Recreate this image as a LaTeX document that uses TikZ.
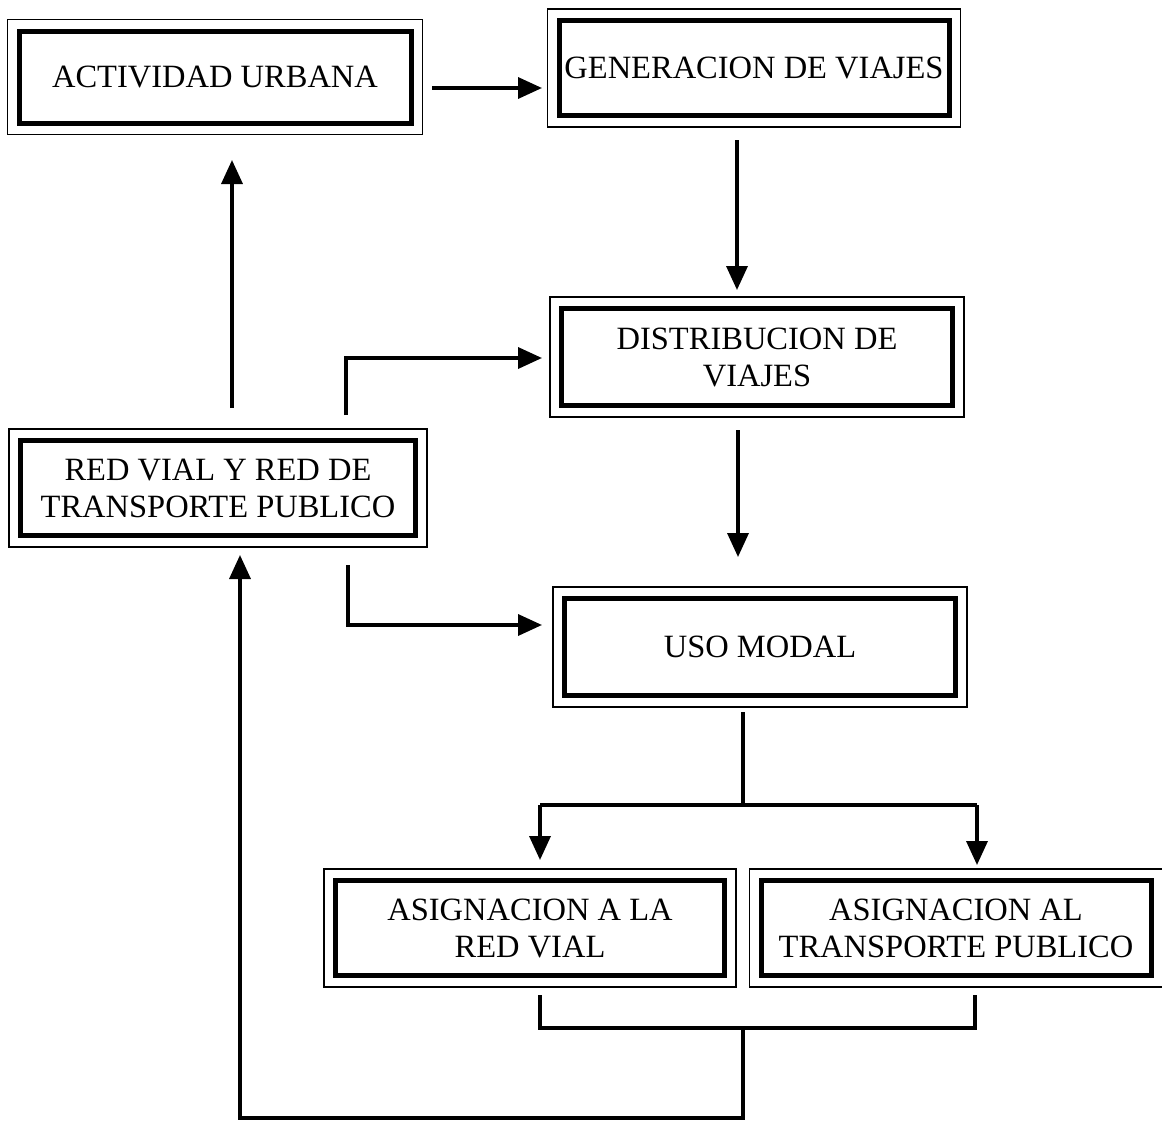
\documentclass[tikz,border=0pt]{standalone}
\usepackage{fontspec}
\setmainfont{Liberation Serif}
\usetikzlibrary{arrows.meta}
\begin{document}
\begin{tikzpicture}[x=1pt,y=-1pt,
  stagebox/.style={draw, line width=5pt, align=center, inner sep=0pt,
    font=\fontsize{32.5}{37}\selectfont},
  frame/.style={line width=1.3pt},
  link/.style={line width=3.5pt},
  arr/.style={link, -{Triangle[length=24pt,width=21pt]}}]
\useasboundingbox (0,0) rectangle (1162,1127);
\node[stagebox, minimum width=392pt, minimum height=92pt] (act) at (215,77) {ACTIVIDAD URBANA};
\node[stagebox, minimum width=390pt, minimum height=95pt] (gen) at (754,68) {GENERACION DE VIAJES};
\node[stagebox, minimum width=391pt, minimum height=97pt] (dist) at (757,357) {DISTRIBUCION DE\\VIAJES};
\node[stagebox, minimum width=395pt, minimum height=95pt] (red) at (218,488) {RED VIAL Y RED DE\\TRANSPORTE PUBLICO};
\node[stagebox, minimum width=391pt, minimum height=97pt] (uso) at (760,647) {USO MODAL};
\node[stagebox, minimum width=389pt, minimum height=95pt] (asr) at (530,928) {ASIGNACION A LA\\RED VIAL};
\node[stagebox, minimum width=390pt, minimum height=95pt] (ast) at (956,928) {ASIGNACION AL\\TRANSPORTE PUBLICO};
\foreach \n in {act,gen,dist,red,uso,asr,ast}
  \draw[frame] ([xshift=-9pt,yshift=-9pt]\n.south west) rectangle ([xshift=9pt,yshift=9pt]\n.north east);
% straight arrows
\coordinate (a1s) at (432,88); \coordinate (a1e) at (542,88);
\draw[arr] (a1s) -- (a1e);
\coordinate (a2s) at (737,140); \coordinate (a2e) at (737,290);
\draw[arr] (a2s) -- (a2e);
\coordinate (a3s) at (738,430); \coordinate (a3e) at (738,557);
\draw[arr] (a3s) -- (a3e);
\coordinate (a4s) at (232,408); \coordinate (a4e) at (232,160);
\draw[arr] (a4s) -- (a4e);
% red -> dist, red -> uso
\coordinate (a5s) at (346,415); \coordinate (a5e) at (542,358);
\draw[arr] (a5s) |- (a5e);
\coordinate (a6s) at (348,565); \coordinate (a6e) at (542,625);
\draw[arr] (a6s) |- (a6e);
% split
\coordinate (sp0) at (743,712); \coordinate (sp1) at (743,805);
\coordinate (spl) at (540,805); \coordinate (spr) at (977,805);
\coordinate (spla) at (540,860); \coordinate (spra) at (977,865);
\draw[link] (sp0) -- (sp1);
\draw[link] (spl) -- (spr);
\draw[arr] (spl) -- (spla);
\draw[arr] (spr) -- (spra);
% merge and feedback
\coordinate (m1) at (540,995); \coordinate (m2) at (975,995);
\coordinate (mc) at (743,1028); \coordinate (fb) at (240,555);
\draw[link] (m1) |- (mc) -| (m2);
\draw[arr] (mc) |- (743,1118) -| (fb);
\end{tikzpicture}
\end{document}
